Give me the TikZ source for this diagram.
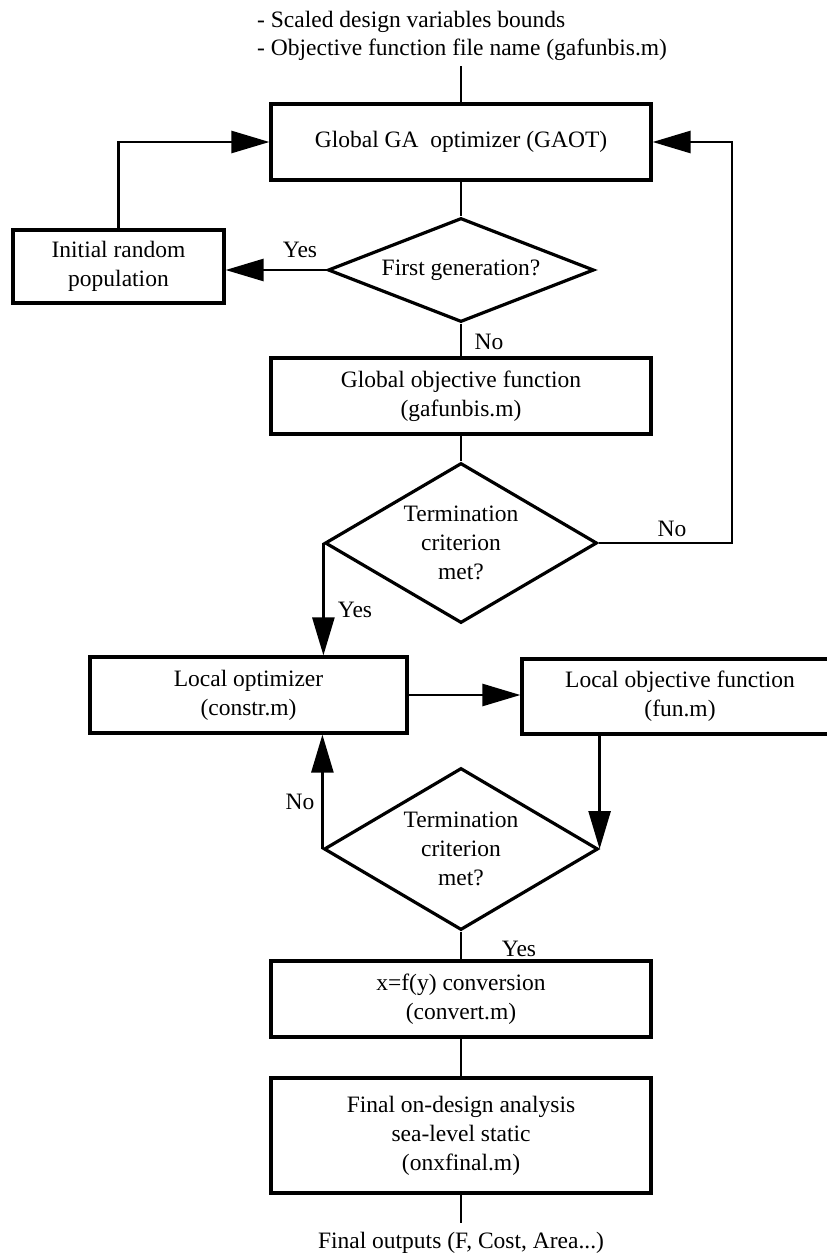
\documentclass[tikz,border=0pt]{standalone}
\usepackage{fontspec}
\setmainfont{Liberation Serif}
\usetikzlibrary{shapes.geometric,arrows.meta}
\begin{document}
\begin{tikzpicture}[x=1pt,y=-1pt,
  every node/.style={font=\fontsize{23.5}{29}\selectfont},
  box/.style={draw, line width=3.2pt, minimum height=76pt, align=center, inner sep=0pt},
  decision/.style={draw, diamond, line width=3.2pt, align=center, inner sep=0pt},
  flow/.style={line width=2.6pt},
  arr/.style={flow, -{Triangle[length=38pt,width=22pt]}},
  tag/.style={inner sep=0pt}]
\useasboundingbox (0,0) rectangle (827,1258);

% inputs
\node[tag, anchor=west, align=left, font=\fontsize{23.5}{28}\selectfont] (inputs) at (257,35.5)
  {- Scaled design variables bounds\\- Objective function file name (gafunbis.m)};
\coordinate (feed) at (461,66);

% global stage
\node[box, minimum width=380pt] (ga) at (461,142) {Global GA\ \ optimizer (GAOT)};
\node[box, minimum width=211pt, minimum height=73pt] (init) at (118.5,266.5) {Initial random\\population};
\node[decision, shape aspect=2.56, minimum width=266pt, minimum height=104pt] (first) at (461,270) {First generation?};
\node[box, minimum width=380pt] (gobj) at (461,396) {Global objective function\\(gafunbis.m)};
\node[decision, shape aspect=1.7, minimum width=272pt, minimum height=160pt] (gterm) at (461,543) {Termination\\criterion\\met?};

% local stage
\node[box, minimum width=317pt] (local) at (248.5,695) {Local optimizer\\(constr.m)};
\node[box, minimum width=316pt, minimum height=75pt] (lobj) at (680,696.5) {Local objective function\\(fun.m)};
\node[decision, shape aspect=1.7, minimum width=274pt, minimum height=162pt] (lterm) at (461,849) {Termination\\criterion\\met?};

% final stage
\node[box, minimum width=380pt] (conv) at (461,999) {x=f(y) conversion\\(convert.m)};
\node[box, minimum width=380pt, minimum height=115pt] (final) at (461,1135.5) {Final on-design analysis\\sea-level static\\(onxfinal.m)};
\coordinate (outend) at (461,1223);
\node[tag] (out) at (461,1243) {Final outputs (F, Cost, Area...)};

% branch labels
\node[tag] (yes1) at (300,250) {Yes};
\node[tag] (no1) at (489,342) {No};
\node[tag] (no2) at (672,529) {No};
\node[tag] (yes2) at (355,610) {Yes};
\node[tag] (no3) at (300,802) {No};
\node[tag] (yes3) at (519,949) {Yes};

% connectors
\coordinate (ret) at (732,0);
\draw[flow] (feed) -- (ga.north);
\draw[flow] (ga.south) -- (first.north);
\draw[arr] (first.west) -- (first.west -| init.east);
\draw[arr] (init.north) |- (ga.west);
\draw[flow] (first.south) -- (gobj.north);
\draw[flow] (gobj.south) -- (gterm.north);
\draw[arr] (gterm.east) -| (ret |- ga.east) -- (ga.east);
\draw[arr] (gterm.west) -- (gterm.west |- local.north);
\draw[arr] (local.east) -- (local.east -| lobj.west);
\draw[arr] (lobj.south -| lterm.east) -- (lterm.east);
\draw[arr] (lterm.west) -- (lterm.west |- local.south);
\draw[flow] (lterm.south) -- (conv.north);
\draw[flow] (conv.south) -- (final.north);
\draw[flow] (final.south) -- (outend);
\end{tikzpicture}
\end{document}
